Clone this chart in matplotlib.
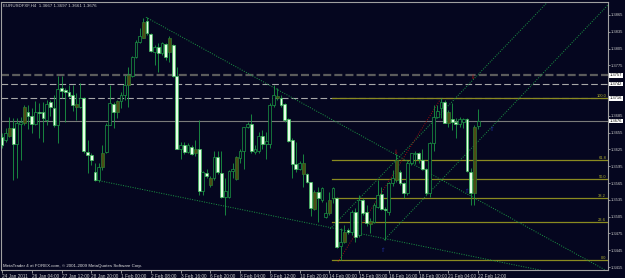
import matplotlib.pyplot as plt
import numpy as np

plt.rcParams['font.family'] = ['Liberation Sans', 'DejaVu Sans']

# EURUSD H4 candles
opens = [1.3647, 1.3642, 1.3649, 1.3663, 1.3634, 1.3670, 1.3672, 1.3692, 1.3685, 1.3670,
         1.3692, 1.3692, 1.3677, 1.3710, 1.3699, 1.3668, 1.3735, 1.3731, 1.3728, 1.3722,
         1.3701, 1.3701, 1.3717, 1.3621, 1.3615, 1.3585, 1.3570, 1.3594, 1.3621, 1.3668,
         1.3706, 1.3692, 1.3711, 1.3722, 1.3740, 1.3756, 1.3790, 1.3817, 1.3824, 1.3854,
         1.3831, 1.3799, 1.3808, 1.3797, 1.3813, 1.3799, 1.3811, 1.3756, 1.3626, 1.3632,
         1.3621, 1.3630, 1.3619, 1.3625, 1.3551, 1.3583, 1.3561, 1.3574, 1.3612, 1.3583,
         1.3540, 1.3540, 1.3587, 1.3572, 1.3610, 1.3623, 1.3665, 1.3670, 1.3621, 1.3623,
         1.3649, 1.3634, 1.3634, 1.3704, 1.3717, 1.3717, 1.3706, 1.3679, 1.3642, 1.3599,
         1.3590, 1.3581, 1.3581, 1.3567, 1.3519, 1.3549, 1.3535, 1.3504, 1.3511, 1.3538,
         1.3538, 1.3453, 1.3460, 1.3481, 1.3478, 1.3513, 1.3472, 1.3535, 1.3513, 1.3492,
         1.3495, 1.3522, 1.3545, 1.3519, 1.3513, 1.3565, 1.3570, 1.3585, 1.3565, 1.3547,
         1.3601, 1.3617, 1.3619, 1.3606, 1.3590, 1.3547, 1.3636, 1.3683, 1.3699, 1.3710,
         1.3672, 1.3679, 1.3674, 1.3670, 1.3674, 1.3679, 1.3585, 1.3547, 1.3667]
highs = [1.3654, 1.3663, 1.3683, 1.3681, 1.3681, 1.3683, 1.3704, 1.3704, 1.3699, 1.3711,
         1.3708, 1.3710, 1.3713, 1.3713, 1.3722, 1.3756, 1.3756, 1.3735, 1.3740, 1.3740,
         1.3726, 1.3744, 1.3719, 1.3642, 1.3619, 1.3601, 1.3601, 1.3632, 1.3672, 1.3740,
         1.3710, 1.3713, 1.3728, 1.3758, 1.3773, 1.3792, 1.3820, 1.3842, 1.3860, 1.3861,
         1.3833, 1.3811, 1.3815, 1.3817, 1.3815, 1.3827, 1.3813, 1.3773, 1.3638, 1.3638,
         1.3636, 1.3632, 1.3642, 1.3677, 1.3587, 1.3590, 1.3578, 1.3623, 1.3623, 1.3623,
         1.3574, 1.3588, 1.3601, 1.3614, 1.3626, 1.3665, 1.3674, 1.3688, 1.3632, 1.3656,
         1.3660, 1.3656, 1.3708, 1.3740, 1.3735, 1.3722, 1.3708, 1.3681, 1.3645, 1.3638,
         1.3604, 1.3617, 1.3583, 1.3567, 1.3553, 1.3558, 1.3558, 1.3531, 1.3549, 1.3558,
         1.3540, 1.3485, 1.3490, 1.3485, 1.3517, 1.3520, 1.3544, 1.3538, 1.3526, 1.3503,
         1.3529, 1.3570, 1.3558, 1.3522, 1.3567, 1.3588, 1.3617, 1.3588, 1.3567, 1.3604,
         1.3619, 1.3623, 1.3621, 1.3626, 1.3592, 1.3638, 1.3704, 1.3704, 1.3716, 1.3713,
         1.3695, 1.3708, 1.3681, 1.3683, 1.3681, 1.3681, 1.3592, 1.3668, 1.3697]
lows = [1.3628, 1.3638, 1.3647, 1.3570, 1.3574, 1.3606, 1.3668, 1.3661, 1.3654, 1.3668,
        1.3645, 1.3638, 1.3668, 1.3685, 1.3665, 1.3636, 1.3717, 1.3674, 1.3718, 1.3693,
        1.3677, 1.3699, 1.3619, 1.3583, 1.3597, 1.3568, 1.3567, 1.3588, 1.3619, 1.3668,
        1.3663, 1.3681, 1.3699, 1.3713, 1.3701, 1.3754, 1.3788, 1.3815, 1.3824, 1.3829,
        1.3799, 1.3776, 1.3764, 1.3794, 1.3785, 1.3781, 1.3754, 1.3626, 1.3608, 1.3617,
        1.3619, 1.3615, 1.3614, 1.3544, 1.3544, 1.3574, 1.3558, 1.3570, 1.3581, 1.3538,
        1.3508, 1.3538, 1.3574, 1.3570, 1.3601, 1.3590, 1.3663, 1.3619, 1.3617, 1.3619,
        1.3626, 1.3608, 1.3628, 1.3701, 1.3713, 1.3701, 1.3674, 1.3638, 1.3574, 1.3585,
        1.3588, 1.3558, 1.3565, 1.3506, 1.3517, 1.3495, 1.3531, 1.3502, 1.3508, 1.3529,
        1.3449, 1.3427, 1.3458, 1.3474, 1.3472, 1.3460, 1.3469, 1.3508, 1.3488, 1.3476,
        1.3494, 1.3520, 1.3517, 1.3463, 1.3508, 1.3560, 1.3567, 1.3561, 1.3538, 1.3544,
        1.3597, 1.3599, 1.3601, 1.3588, 1.3544, 1.3540, 1.3623, 1.3681, 1.3681, 1.3672,
        1.3665, 1.3660, 1.3645, 1.3665, 1.3663, 1.3585, 1.3526, 1.3526, 1.3661]
closes = [1.3632, 1.3654, 1.3663, 1.3634, 1.3672, 1.3674, 1.3701, 1.3685, 1.3670, 1.3692,
          1.3690, 1.3681, 1.3706, 1.3701, 1.3668, 1.3733, 1.3729, 1.3728, 1.3720, 1.3704,
          1.3706, 1.3717, 1.3623, 1.3615, 1.3606, 1.3570, 1.3594, 1.3619, 1.3668, 1.3708,
          1.3692, 1.3711, 1.3722, 1.3740, 1.3758, 1.3790, 1.3817, 1.3827, 1.3852, 1.3833,
          1.3801, 1.3808, 1.3797, 1.3815, 1.3790, 1.3824, 1.3756, 1.3626, 1.3632, 1.3621,
          1.3632, 1.3617, 1.3625, 1.3551, 1.3585, 1.3578, 1.3574, 1.3612, 1.3585, 1.3540,
          1.3551, 1.3587, 1.3590, 1.3612, 1.3623, 1.3665, 1.3670, 1.3623, 1.3626, 1.3649,
          1.3634, 1.3640, 1.3704, 1.3722, 1.3720, 1.3704, 1.3677, 1.3640, 1.3599, 1.3590,
          1.3601, 1.3601, 1.3567, 1.3520, 1.3549, 1.3538, 1.3556, 1.3511, 1.3535, 1.3556,
          1.3451, 1.3460, 1.3478, 1.3478, 1.3513, 1.3469, 1.3535, 1.3511, 1.3494, 1.3497,
          1.3526, 1.3544, 1.3519, 1.3517, 1.3565, 1.3574, 1.3606, 1.3565, 1.3547, 1.3601,
          1.3619, 1.3619, 1.3608, 1.3590, 1.3547, 1.3636, 1.3683, 1.3693, 1.3710, 1.3672,
          1.3692, 1.3674, 1.3670, 1.3679, 1.3679, 1.3587, 1.3547, 1.3665, 1.3676]
olive_bars = [2, 6, 20, 27, 31, 34, 38, 45, 52, 56, 63, 74, 81, 84, 88, 92, 99, 106, 120, 127]

time_labels = ["24 Jan 2011", "26 Jan 04:00", "27 Jan 12:00", "28 Jan 20:00", "1 Feb 00:00",
               "2 Feb 08:00", "3 Feb 16:00", "6 Feb 20:00", "8 Feb 04:00", "9 Feb 12:00",
               "10 Feb 20:00", "14 Feb 00:00", "15 Feb 08:00", "16 Feb 16:00", "18 Feb 00:00",
               "21 Feb 04:00", "22 Feb 12:00"]
price_ticks = [1.3415, 1.3445, 1.3475, 1.3505, 1.3535, 1.3565, 1.3595, 1.3625,
               1.3655, 1.3685, 1.3715, 1.3745, 1.3775, 1.3805, 1.3835, 1.3865]
hidden_ticks = [1.3715, 1.3745]   # covered by the level boxes in the screenshot

dark_level = 1.3757
light_levels = [1.3742, 1.3716]
bid = 1.3676

fib_low, fib_high = 1.3427, 1.3716
fib_start = 88.7
fib_ratios = [0.0, 23.6, 38.2, 50.0, 61.8, 100.0]

# trendlines: (bar, price) anchors, extended as rays to the right edge
green_rays = [((38.7, 1.3861), (133.9, 1.3513)),
              ((25.5, 1.3570), (133.9, 1.3424)),
              ((102.7, 1.3463), (162.9, 1.3883)),
              ((88.2, 1.3483), (146.5, 1.3887))]
red_line = ((90.3, 1.3424), (117.7, 1.3713))
up_arrows = [(102.4, 1.3444), (125.0, 1.3549), (131.7, 1.3660)]
down_arrows = [(105.9, 1.3619), (126.6, 1.3754)]

bg = '#05061f'
green = '#1b9a45'
olive = '#8a8a20'
xmin, xmax = -0.13, 162.9

fig = plt.figure(figsize=(6.25, 2.78), dpi=100, facecolor=bg)
ax = fig.add_axes([1.5 / 625, 8 / 278, 606.5 / 625, 268.5 / 278], facecolor=bg)
ax.set_xlim(xmin, xmax)
ax.set_ylim(1.34097, 1.38891)

# levels
ax.axhline(dark_level, color='#5c5c5c', lw=1.6, dashes=(3.6, 1.4), zorder=1)
for lv in light_levels:
    ax.axhline(lv, color='#a8a8a8', lw=0.8, dashes=(6, 2.7), zorder=1)
ax.axhline(bid, color='#7a7a7a', lw=0.8, zorder=1)

# fibonacci
for r in fib_ratios:
    lv = fib_low + (fib_high - fib_low) * r / 100
    ax.plot([fib_start, xmax], [lv, lv], color=olive, lw=0.9, zorder=2)
    ax.text(xmax - 0.5, lv + 0.00008, '%.1f' % r, color='#b0b030', fontsize=2.9,
            ha='right', va='bottom', zorder=6)

for (x0, y0), (x1, y1) in green_rays:
    slope = (y1 - y0) / (x1 - x0)
    ax.plot([x0, xmax], [y0, y0 + slope * (xmax - x0)], color=green, lw=0.7,
            dashes=(1, 1.5), zorder=2)
ax.plot([red_line[0][0], red_line[1][0]], [red_line[0][1], red_line[1][1]],
        color='#9c1010', lw=0.7, dashes=(1, 1.5), zorder=2)

# candles
x = np.arange(len(opens))
o = np.array(opens)
c = np.array(closes)
faces, edges = [], []
for i in range(len(o)):
    if i in olive_bars:
        faces.append('#4c4c14')
        edges.append('#2f7d2f')
    elif c[i] >= o[i]:
        faces.append(bg)
        edges.append(green)
    else:
        faces.append('#e8ffe8')
        edges.append('#3cbf5a')
ax.vlines(x, lows, highs, color=green, lw=0.6, zorder=3)
ax.bar(x, np.maximum(np.abs(c - o), 0.00006), bottom=np.minimum(o, c), width=0.75,
       color=faces, edgecolor=edges, linewidth=0.5, zorder=4)

for bx, py in up_arrows:
    ax.text(bx, py, '⇑', color='#2030a0', fontsize=4, ha='center', va='center', zorder=5)
for bx, py in down_arrows:
    ax.text(bx, py, '⇓', color='#b01818', fontsize=4, ha='center', va='center', zorder=5)

# axes cosmetics
for s in ax.spines.values():
    s.set_color('#a0a0a0')
    s.set_linewidth(0.8)
ax.yaxis.tick_right()
ax.set_yticks(price_ticks)
ax.set_yticklabels(['' if p in hidden_ticks else '%.4f' % p for p in price_ticks])
ax.tick_params(axis='y', colors='#c8c8c8', labelsize=3.0, length=1.5, width=0.5, pad=0.8)
ax.set_xticks(range(0, len(opens), 8))
ax.set_xticklabels(time_labels, ha='left')
ax.tick_params(axis='x', colors='#c8c8c8', labelsize=3.4, length=2, width=0.5, pad=0.6)

for lv in [dark_level] + light_levels + [bid]:
    ax.text(1.003, lv, '%.4f' % lv, transform=ax.get_yaxis_transform(), color='black',
            fontsize=3.0, va='center', ha='left',
            bbox=dict(facecolor='white', edgecolor='none', pad=0.25), zorder=7)

ax.text(0.002, 0.993, 'EURUSDFXF,H4  1.3667 1.3697 1.3661 1.3676', transform=ax.transAxes,
        color='#d0d0d0', fontsize=3.2, va='top', ha='left')
ax.text(0.002, 0.006, 'MetaTrader 4 at FOREX.com, © 2001-2009 MetaQuotes Software Corp.',
        transform=ax.transAxes, color='#e0e0e0', fontsize=3.2, va='bottom', ha='left')

fig.savefig('out.png', dpi=100, facecolor=bg)
